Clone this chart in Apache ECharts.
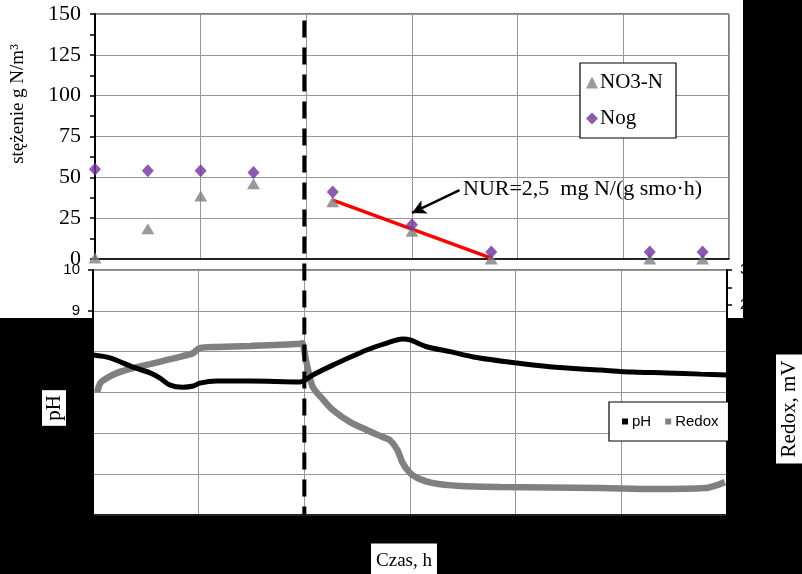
<!DOCTYPE html>
<html>
<head>
<meta charset="utf-8">
<script src="https://cdn.jsdelivr.net/npm/echarts@6/dist/echarts.min.js"></script>
<style>
html,body{margin:0;padding:0;background:#000;}
#c{width:802px;height:574px;}
</style>
</head>
<body>
<div id="c"></div>
<script>
// ---- data (time in h) ----
const topX   = [0, 0.5, 1, 1.5, 2.25, 3, 3.75, 5.25, 5.75];
const nogY   = [55, 54, 54, 53, 41, 21, 4.3, 4.3, 4.3];
const no3Y   = [0.6, 18.5, 38.6, 46, 35, 17, 0, 0, 0];
const nurX   = [2.25, 3.75];
const nurY   = [36, 0.5];
const arrowFrom = [3.45, 42.2];
const arrowTo   = [3.0, 28.2];
const aerationEnd = 2;

const phX = [0, 0.16, 0.38, 0.54, 0.63, 0.73, 0.85, 0.95, 1.01, 1.17, 1.49, 1.96, 2.08, 2.27, 2.59, 2.78, 2.93, 3.0, 3.16, 3.38, 3.6, 4.01, 4.32, 4.8, 5.11, 5.43, 5.75, 6.0];
const phY = [7.92, 7.85, 7.62, 7.48, 7.36, 7.18, 7.13, 7.16, 7.23, 7.28, 7.28, 7.26, 7.43, 7.67, 8.04, 8.21, 8.31, 8.29, 8.12, 8.0, 7.87, 7.72, 7.63, 7.55, 7.5, 7.48, 7.45, 7.43];

const redoxX = [0.04, 0.07, 0.13, 0.23, 0.38, 0.54, 0.70, 0.85, 0.95, 1.01, 1.17, 1.49, 1.96, 1.98, 2.01, 2.04, 2.08, 2.18, 2.27, 2.43, 2.59, 2.74, 2.81, 2.88, 2.93, 3.0, 3.07, 3.22, 3.47, 3.85, 4.8, 5.32, 5.8, 5.89, 5.98];
const redoxY = [-49, -23, -9, 6, 20, 31, 43, 54, 63, 77, 80, 83, 89, 91, 51, 9, -34, -71, -100, -134, -157, -177, -186, -214, -251, -280, -294, -309, -317, -320, -323, -326, -323, -316, -306];

const concTicks = [0, 150, 25];   // min, max, step
const phTicks = [4, 10, 1];
const redoxTicks = [-400, 300, 100];
const timeTicks = [0, 6, 1];

const zip = (a, b) => a.map((v, i) => [v, b[i]]);

const SERIF = '"Liberation Serif","Times New Roman",serif';
const SANS = '"Liberation Sans",Arial,sans-serif';
const GRID = '#969696';

const chart = echarts.init(document.getElementById('c'), null, {renderer: 'canvas', width: 802, height: 574});

const option = {
  backgroundColor: '#000',
  animation: false,
  grid: [
    {left: 95, right: 73, top: 14, height: 245, show: true, backgroundColor: '#fff', borderColor: '#000', borderWidth: 1},
    {left: 93, right: 75, top: 270, height: 245, show: true, backgroundColor: '#fff', borderColor: '#000', borderWidth: 1}
  ],
  legend: [
    {
      data: [{name: 'NO3-N', icon: 'triangle'}, {name: 'Nog', icon: 'diamond'}],
      orient: 'vertical', left: 580, top: 63,
      backgroundColor: '#fff', borderColor: '#000', borderWidth: 1.2,
      padding: [9, 13, 9, 6], itemGap: 15, itemWidth: 12, itemHeight: 12,
      textStyle: {fontFamily: SERIF, fontSize: 21, color: '#000', padding: [0, 0, 0, -3]}
    },
    {
      data: [{name: 'pH', icon: 'rect'}, {name: 'Redox', icon: 'rect'}],
      orient: 'horizontal', left: 609, top: 402,
      backgroundColor: '#fff', borderColor: '#000', borderWidth: 1.2,
      padding: [12, 10, 12, 13], itemGap: 14, itemWidth: 6, itemHeight: 6,
      textStyle: {fontFamily: SANS, fontSize: 15, color: '#000', padding: [0, 0, 0, -1]}
    }
  ],
  xAxis: [
    {type: 'value', gridIndex: 0, min: timeTicks[0], max: timeTicks[1], interval: timeTicks[2],
     axisLine: {onZero: false, lineStyle: {color: '#000', width: 1.5}}, axisTick: {show: false}, axisLabel: {show: false},
     splitLine: {show: true, lineStyle: {color: GRID, width: 1}}},
    {type: 'value', gridIndex: 1, min: timeTicks[0], max: timeTicks[1], interval: timeTicks[2],
     axisLine: {onZero: false, lineStyle: {color: '#000', width: 1.5}}, axisTick: {show: true, lineStyle: {color: '#000'}},
     axisLabel: {color: '#000', fontFamily: SANS, fontSize: 15},
     splitLine: {show: true, lineStyle: {color: GRID, width: 1}}}
  ],
  yAxis: [
    {type: 'value', gridIndex: 0, min: concTicks[0], max: concTicks[1], interval: concTicks[2],
     axisLine: {show: true, onZero: false, lineStyle: {color: '#000', width: 2}},
     axisTick: {show: true, inside: false, length: 5, lineStyle: {color: '#000', width: 1.5}},
     minorTick: {show: true, splitNumber: 2, length: 5, lineStyle: {color: '#000', width: 1.5}},
     axisLabel: {color: '#000', fontFamily: SERIF, fontSize: 22, margin: 14},
     splitLine: {show: true, lineStyle: {color: GRID, width: 1}}},
    {type: 'value', gridIndex: 1, min: phTicks[0], max: phTicks[1], interval: phTicks[2],
     axisLine: {show: true, onZero: false, lineStyle: {color: '#000', width: 2}},
     axisTick: {show: true, inside: false, length: 5, lineStyle: {color: '#000', width: 1.5}},
     axisLabel: {color: '#000', fontFamily: SANS, fontSize: 15, margin: 13},
     splitLine: {show: true, lineStyle: {color: GRID, width: 1}}},
    {type: 'value', gridIndex: 1, position: 'right', min: redoxTicks[0], max: redoxTicks[1], interval: redoxTicks[2],
     axisLine: {show: true, onZero: false, lineStyle: {color: '#000', width: 2}},
     axisTick: {show: true, inside: false, length: 5, lineStyle: {color: '#000', width: 1.5}},
     minorTick: {show: true, splitNumber: 2, length: 5, lineStyle: {color: '#000', width: 1.5}},
     axisLabel: {color: '#000', fontFamily: SANS, fontSize: 15, margin: 13},
     splitLine: {show: false}}
  ],
  series: [
    {name: 'NUR', type: 'line', xAxisIndex: 0, yAxisIndex: 0, data: zip(nurX, nurY), symbol: 'none',
     lineStyle: {color: '#ff0000', width: 3.5}, z: 3,
     markLine: {silent: true, symbol: ['none', 'arrow'], symbolSize: [11, 14],
       lineStyle: {color: '#000', width: 2.5, type: 'solid'}, label: {show: false},
       data: [[{coord: arrowFrom}, {coord: arrowTo}]]}},
    {name: 'NO3-N', type: 'scatter', xAxisIndex: 0, yAxisIndex: 0, data: zip(topX, no3Y),
     symbol: 'triangle', symbolSize: [13, 11], itemStyle: {color: '#808080'}, z: 4, clip: false},
    {name: 'Nog', type: 'scatter', xAxisIndex: 0, yAxisIndex: 0, data: zip(topX, nogY),
     symbol: 'diamond', symbolSize: [12, 13], itemStyle: {color: '#7030a0'}, z: 5, clip: false},
    {name: 'pH', type: 'line', xAxisIndex: 1, yAxisIndex: 1, data: zip(phX, phY), symbol: 'none', smooth: 0.3,
     lineStyle: {color: '#000', width: 5}, itemStyle: {color: '#000'}, z: 4},
    {name: 'Redox', type: 'line', xAxisIndex: 1, yAxisIndex: 2, data: zip(redoxX, redoxY), symbol: 'none', smooth: 0.3,
     lineStyle: {color: '#808080', width: 6.5}, itemStyle: {color: '#808080'}, z: 3}
  ]
};
chart.setOption(option);

const dx = chart.convertToPixel({xAxisIndex: 1}, aerationEnd);
const dyTop = chart.convertToPixel({yAxisIndex: 0}, 146);
const dyBot = chart.convertToPixel({yAxisIndex: 1}, phTicks[0]);

chart.setOption({
  graphic: [
    {type: 'rect', id: 'bgTop', z: -100, silent: true, shape: {x: 0, y: 0, width: 743, height: 318}, style: {fill: '#fff'}},
    {type: 'line', id: 'dash', z: 100, silent: true, shape: {x1: dx, y1: dyTop, x2: dx, y2: dyBot},
     style: {stroke: '#000', lineWidth: 4, lineDash: [17, 10]}},
    {type: 'text', id: 'nur', z: 100, silent: true, x: 463, y: 189,
     style: {text: 'NUR=2,5  mg N/(g smo·h)', font: '22px ' + SERIF, fill: '#000', verticalAlign: 'middle', align: 'left'}},
    {type: 'text', id: 'conc', z: 100, silent: true, x: 18, y: 104, rotation: Math.PI / 2,
     style: {text: 'stężenie g N/m³', font: '19px ' + SERIF, fill: '#000', align: 'center', verticalAlign: 'middle'}},
    {type: 'text', id: 'ph', z: 100, silent: true, x: 54, y: 408, rotation: Math.PI / 2,
     style: {text: 'pH', font: '21px ' + SERIF, fill: '#000', align: 'center', verticalAlign: 'middle',
             backgroundColor: '#fff', padding: [2, 5, 1, 5]}},
    {type: 'text', id: 'redox', z: 100, silent: true, x: 789, y: 409, rotation: Math.PI / 2,
     style: {text: 'Redox, mV', font: '21px ' + SERIF, fill: '#000', align: 'center', verticalAlign: 'middle',
             backgroundColor: '#fff', padding: [3, 6, 2, 6]}},
    {type: 'text', id: 'czas', z: 100, silent: true, x: 404, y: 561,
     style: {text: 'Czas, h', font: '19px ' + SERIF, fill: '#000', align: 'center', verticalAlign: 'middle',
             backgroundColor: '#fff', padding: [8, 5, 8, 5]}}
  ]
});
</script>
</body>
</html>
